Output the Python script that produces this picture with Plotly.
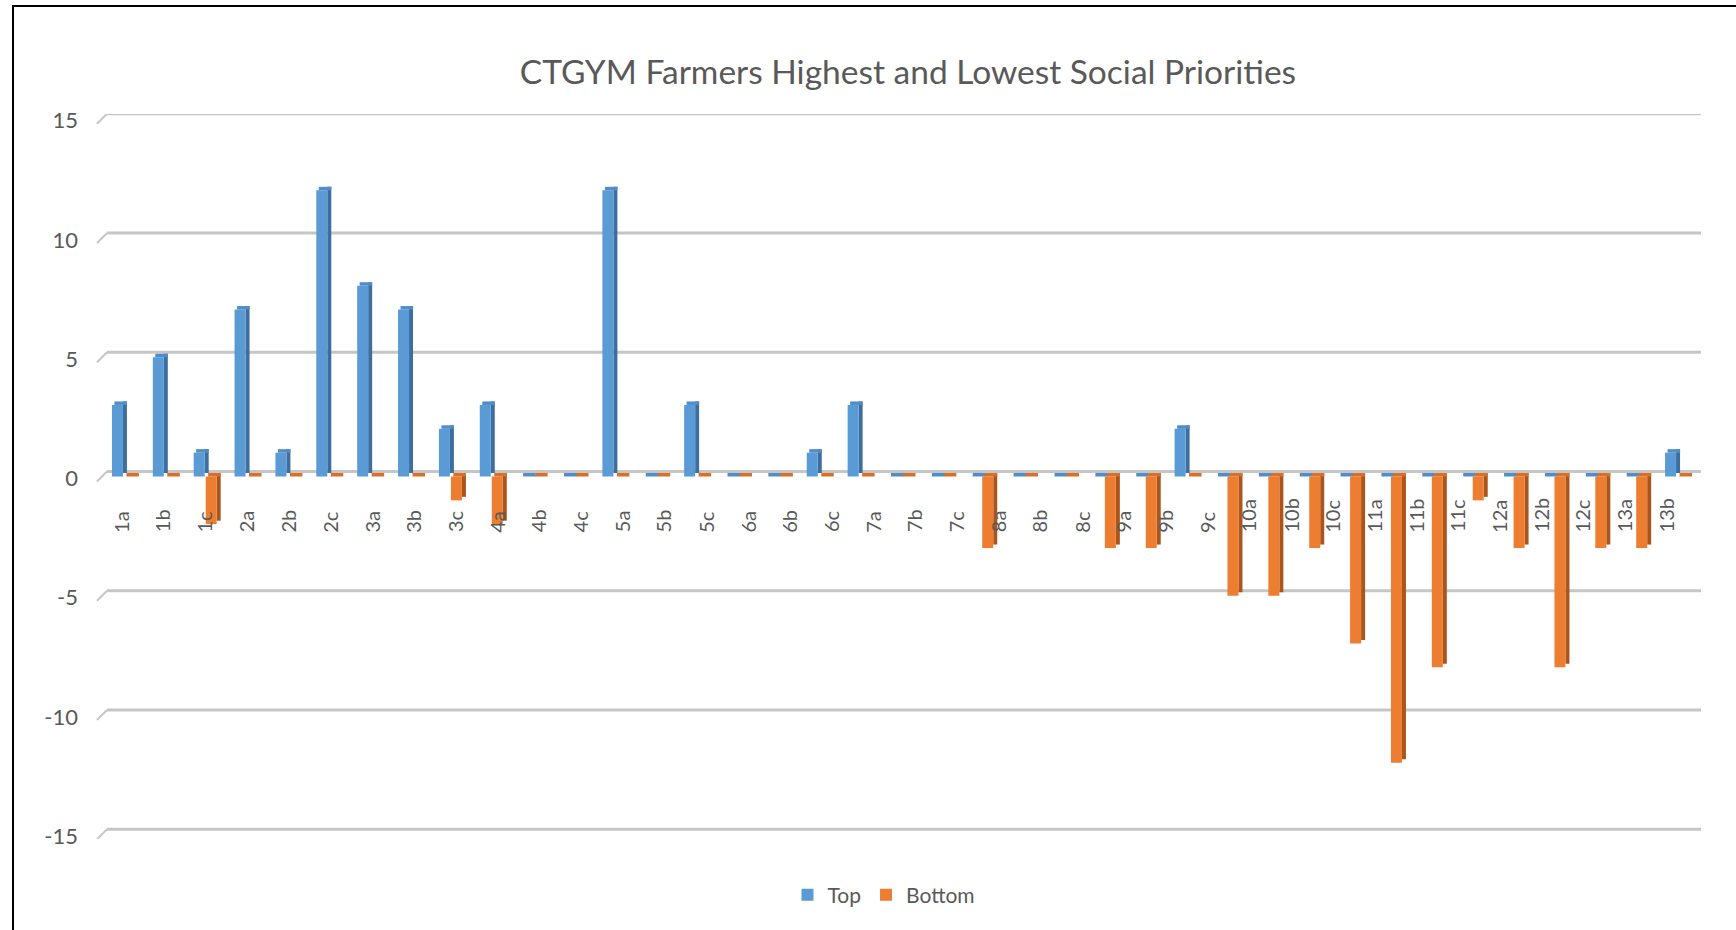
import plotly.graph_objects as go

# ---------------- data ----------------
labels = ["1a", "1b", "1c", "2a", "2b", "2c", "3a", "3b", "3c", "4a", "4b", "4c",
          "5a", "5b", "5c", "6a", "6b", "6c", "7a", "7b", "7c", "8a", "8b", "8c",
          "9a", "9b", "9c", "10a", "10b", "10c", "11a", "11b", "11c", "12a", "12b",
          "12c", "13a", "13b"]
# 39 column groups are drawn in the source chart (the last group carries no label)
top = [3, 5, 1, 7, 1, 12, 8, 7, 2, 3, 0, 0, 12, 0, 3, 0, 0, 1, 3, 0, 0, 0, 0, 0,
       0, 0, 2, 0, 0, 0, 0, 0, 0, 0, 0, 0, 0, 0, 1]
bottom = [0, 0, -2, 0, 0, 0, 0, 0, -1, -2, 0, 0, 0, 0, 0, 0, 0, 0, 0, 0, 0, -3, 0, 0,
          -3, -3, 0, -5, -5, -3, -7, -12, -8, -1, -3, -8, -3, -3, 0]
y_ticks = [-15, -10, -5, 0, 5, 10, 15]
series_names = ["Top", "Bottom"]
title_text = "CTGYM Farmers Highest and Lowest Social Priorities"

# ---------------- layout geometry / style ----------------
W, H = 1736, 930
ML, MR, MT, MB = 103, 39, 114, 91
PW, PH = W - ML - MR, H - MT - MB
YR = [-15.2, 15.2]
n = len(top)
XR = [-0.5, n - 0.5]
px_x = PW / n                      # pixels per category
px_y = PH / (YR[1] - YR[0])        # pixels per y unit
FACE = 3.5 / px_y                  # depth of 3D top face (y units)
DEPTH = 10                         # px depth of the wall (gridline slant)
WALL = 5 / px_y                    # back wall sits half a depth above the bars
LABEL_SPREAD = 1.022               # perspective spread of front-edge labels
GREY = "#595959"
FONT = "Lato"

def pxw(p):
    return p / px_x

def paper_x(px):
    return (px - ML) / PW

def paper_y(py):
    return (H - MB - py) / PH

idx = list(range(n))
fig = go.Figure()

def add_series(vals, name, front, side, topc, f0, f1, s1, t0, t1):
    side_base = [min(0, v) + FACE for v in vals]
    side_h = [abs(v) for v in vals]
    top_base = [max(0, v) for v in vals]
    fig.add_trace(go.Bar(x=idx, y=side_h, base=side_base, offset=pxw(f1), width=pxw(s1 - f1),
                         marker=dict(color=side, line=dict(width=0)), showlegend=False,
                         legendgroup=name, hoverinfo="skip"))
    fig.add_trace(go.Bar(x=idx, y=vals, offset=pxw(f0), width=pxw(f1 - f0), name=name,
                         marker=dict(color=front, line=dict(width=0)), legendgroup=name))
    fig.add_trace(go.Bar(x=idx, y=[FACE] * n, base=top_base, offset=pxw(t0), width=pxw(t1 - t0),
                         marker=dict(color=topc, line=dict(width=0)), showlegend=False,
                         legendgroup=name, hoverinfo="skip"))

add_series(top, series_names[0], "#5B9BD5", "#3E6E9F", "#4F8DCB", -11.5, -0.5, 3.5, -9.0, 3.5)
add_series(bottom, series_names[1], "#ED7D31", "#A9551C", "#DA6F27", 0.5, 11.5, 15.5, 3.0, 15.5)

# gridlines on the back wall, with 3D slant at the left edge
shapes = []
x_l = paper_x(ML + 4)
x_r = paper_x(W - MR + 4)
dy = DEPTH / px_y
for t in y_ticks:
    yw = t + WALL
    shapes.append(dict(type="line", xref="paper", yref="y", x0=x_l, x1=x_r, y0=yw, y1=yw,
                       line=dict(color="#C6C6C6", width=3), layer="below"))
    shapes.append(dict(type="line", xref="paper", yref="y", x0=paper_x(ML - 6), x1=x_l,
                       y0=yw - dy, y1=yw, line=dict(color="#C6C6C6", width=2), layer="below"))
# outer frame
shapes.append(dict(type="rect", xref="paper", yref="paper", x0=paper_x(13), x1=paper_x(W + 20),
                   y0=paper_y(H + 20), y1=paper_y(6), line=dict(color="black", width=2),
                   fillcolor="rgba(0,0,0,0)", layer="above"))

annotations = []
for i, lab in enumerate(labels):
    annotations.append(dict(x=i * LABEL_SPREAD, y=0, xref="x", yref="y", text=lab,
                            textangle=-90, showarrow=False, xanchor="center", yanchor="bottom",
                            xshift=-3, yshift=-58, font=dict(family=FONT, size=20, color=GREY)))

fig.update_layout(
    width=W, height=H,
    margin=dict(l=ML, r=MR, t=MT, b=MB),
    paper_bgcolor="white", plot_bgcolor="white",
    barmode="overlay",
    title=dict(text=title_text, x=paper_x(908), xref="paper", xanchor="center",
               y=1 - 72 / H, yref="container", yanchor="middle",
               font=dict(family=FONT, size=33.5, color=GREY)),
    xaxis=dict(range=XR, showticklabels=False, showgrid=False, zeroline=False,
               showline=False, ticks=""),
    yaxis=dict(range=YR, tickvals=y_ticks, ticktext=[str(t) for t in y_ticks],
               showgrid=False, zeroline=False, showline=False,
               ticks="", ticklabelstandoff=24, ticklabelshift=2,
               tickfont=dict(family=FONT, size=22, color=GREY)),
    legend=dict(orientation="h", x=paper_x(884), y=paper_y(895), xanchor="center",
                yanchor="middle", font=dict(family=FONT, size=21, color=GREY),
                bgcolor="rgba(0,0,0,0)", traceorder="normal"),
    shapes=shapes,
    annotations=annotations,
    showlegend=True,
)

fig.write_html("out.html")
